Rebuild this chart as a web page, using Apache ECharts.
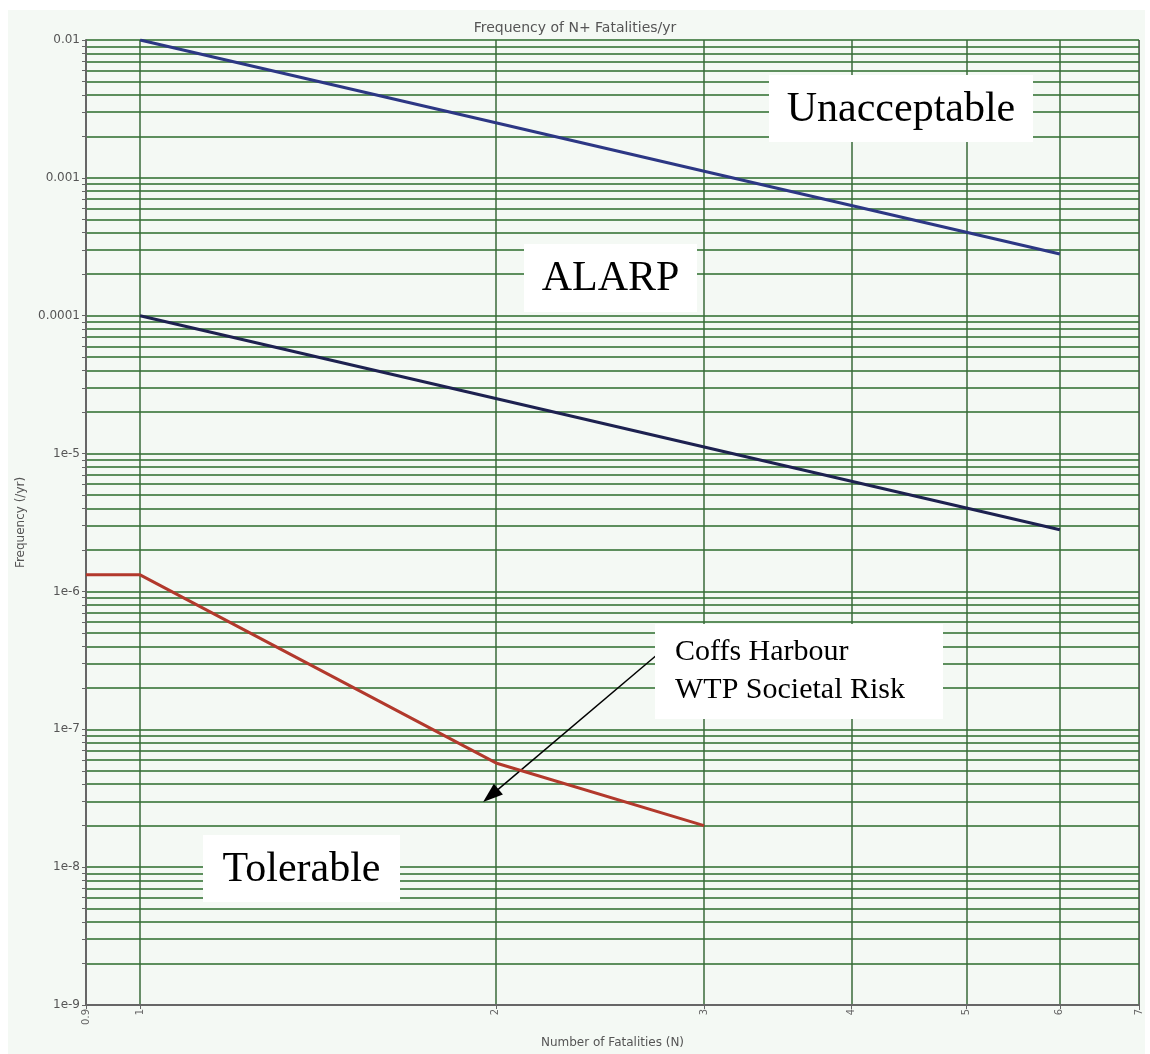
<!DOCTYPE html>
<html><head><meta charset="utf-8">
<script src="https://cdn.jsdelivr.net/npm/echarts@6/dist/echarts.min.js"></script>
<style>html,body{margin:0;padding:0;background:#fff}#c{width:1150px;height:1054px}</style>
</head><body><div id="c"></div>
<script>
// ---- data ----
const criterionN = [1, 6];
const unacceptableFreq = [0.01, 0.00028];
const tolerableFreq = [0.0001, 0.0000028];
const projectN = [0.9, 1, 2, 3];
const projectFreq = [1.32e-6, 1.32e-6, 5.7e-8, 2.0e-8];
const xTickValues = [0.9, 1, 2, 3, 4, 5, 6, 7];
const xTickLabels = ['0.9', '1', '2', '3', '4', '5', '6', '7'];
const yDecades = [1e-9, 1e-8, 1e-7, 1e-6, 1e-5, 1e-4, 1e-3, 1e-2];
const yDecadeLabels = ['1e-9', '1e-8', '1e-7', '1e-6', '1e-5', '0.0001', '0.001', '0.01'];
const yMultipliers = [1, 2, 3, 4, 5, 6, 7, 8, 9];
const arrowFrom = [2.73, 3.4e-7];
const arrowTo = [1.98, 3.3e-8];

// build y grid tick values
const yTickValues = [];
yDecades.forEach((d, i) => {
  if (i === yDecades.length - 1) { yTickValues.push(d); return; }
  yMultipliers.forEach(m => yTickValues.push(+(d * m).toPrecision(3)));
});
function yLabel(v) {
  for (let i = 0; i < yDecades.length; i++) {
    if (Math.abs(v / yDecades[i] - 1) < 1e-6) return yDecadeLabels[i];
  }
  return '';
}
function xLabel(v) {
  for (let i = 0; i < xTickValues.length; i++) {
    if (Math.abs(v - xTickValues[i]) < 1e-6) return xTickLabels[i];
  }
  return '';
}

const chart = echarts.init(document.getElementById('c'), null, {renderer: 'canvas'});
const serif = '"Liberation Serif", "Times New Roman", serif';
const sans = '"DejaVu Sans", Arial, sans-serif';

function box(x, y, w, h, lines, fontSize, align, tx) {
  const els = [{
    type: 'rect', z: 100, silent: true, shape: {x: x, y: y, width: w, height: h},
    style: {fill: '#ffffff'}
  }];
  lines.forEach(l => els.push({
    type: 'text', z: 101, silent: true, x: align === 'center' ? x + w / 2 : tx, y: l.y,
    style: {text: l.t, font: fontSize + 'px ' + serif, fill: '#000',
            align: align, verticalAlign: 'middle'}
  }));
  return els;
}

chart.setOption({
  backgroundColor: '#ffffff',
  animation: false,
  title: {
    text: 'Frequency of N+ Fatalities/yr', left: 'center', top: 16,
    textStyle: {fontFamily: sans, fontSize: 14, fontWeight: 'normal', color: '#555'}
  },
  grid: {left: 86, right: 11, top: 40, bottom: 44, show: false},
  xAxis: {
    type: 'log', logBase: 10, min: 0.9, max: 7,
    name: 'Number of Fatalities (N)', nameLocation: 'middle', nameGap: 32,
    nameTextStyle: {fontFamily: sans, fontSize: 12, color: '#555'},
    axisLine: {show: true, lineStyle: {color: '#666', width: 2}},
    axisTick: {show: true, length: 4, customValues: xTickValues, lineStyle: {color: '#666'}},
    axisLabel: {customValues: xTickValues, rotate: 90, fontFamily: sans, fontSize: 10,
                color: '#666', margin: 4, formatter: xLabel},
    splitLine: {show: true, lineStyle: {color: '#3a6a3a', width: 1.5}},
    minorTick: {show: false}, minorSplitLine: {show: false}
  },
  yAxis: {
    type: 'log', logBase: 10, min: 1e-9, max: 0.01,
    name: 'Frequency (/yr)', nameLocation: 'middle', nameGap: 55,
    nameTextStyle: {fontFamily: sans, fontSize: 12, color: '#555'},
    axisLine: {show: true, lineStyle: {color: '#666', width: 2}},
    axisTick: {show: true, length: 4, customValues: yTickValues, lineStyle: {color: '#666'}},
    axisLabel: {customValues: yDecades, fontFamily: sans, fontSize: 12, color: '#555',
                margin: 6, formatter: yLabel},
    splitLine: {show: true, lineStyle: {color: '#5d8f5d', width: 2}},
    minorTick: {show: false}, minorSplitLine: {show: false}
  },
  graphic: [
    {type: 'rect', z: -100, silent: true, shape: {x: 8, y: 10, width: 1137, height: 1044},
     style: {fill: '#f4f9f4'}},
    {type: 'rect', z: 40, silent: true, shape: {x: 1139, y: 40, width: 1, height: 970},
     style: {fill: '#666'}}
  ].concat(
    box(769, 75, 264, 67, [{t: 'Unacceptable', y: 110}], 42, 'center'),
    box(524, 244, 173, 68, [{t: 'ALARP', y: 279}], 42, 'center'),
    box(203, 835, 197, 67, [{t: 'Tolerable', y: 870}], 42, 'center'),
    box(655, 624, 288, 95, [{t: 'Coffs Harbour', y: 652}, {t: 'WTP Societal Risk', y: 690}], 30, 'left', 675)
  ),
  series: [
    {type: 'line', name: 'Unacceptable limit', symbol: 'none', z: 10,
     data: criterionN.map((n, i) => [n, unacceptableFreq[i]]),
     lineStyle: {color: '#2c3784', width: 3}},
    {type: 'line', name: 'Tolerable limit', symbol: 'none', z: 10,
     data: criterionN.map((n, i) => [n, tolerableFreq[i]]),
     lineStyle: {color: '#1d2150', width: 3}},
    {type: 'line', name: 'Coffs Harbour WTP', symbol: 'none', z: 10,
     data: projectN.map((n, i) => [n, projectFreq[i]]),
     lineStyle: {color: '#b2392c', width: 3},
     markLine: {
       silent: true, symbol: ['none', 'triangle'], symbolSize: [14, 20],
       lineStyle: {color: '#000', width: 1.5, type: 'solid'}, label: {show: false},
       data: [[{coord: arrowFrom}, {coord: arrowTo}]]
     }}
  ]
});
</script></body></html>
